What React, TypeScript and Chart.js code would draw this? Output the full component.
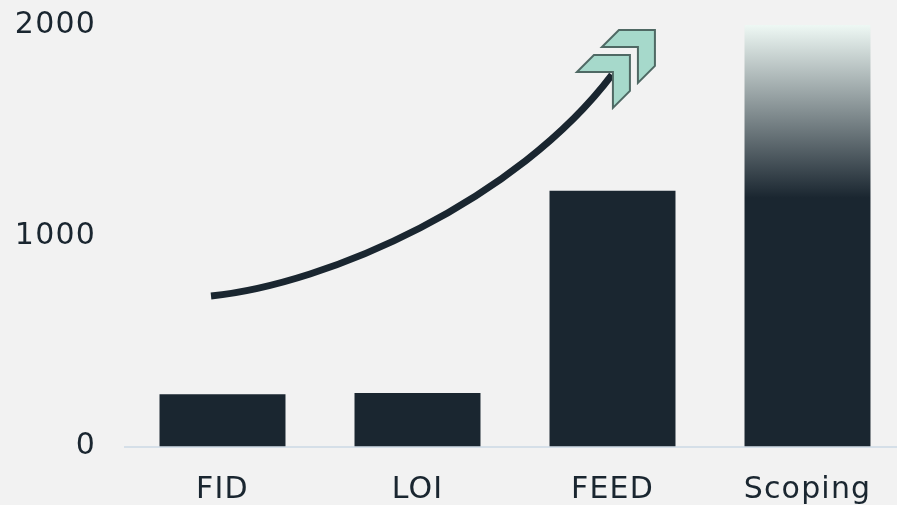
import React, { useEffect, useRef } from 'react';
import { Chart, registerables } from 'chart.js';

Chart.register(...registerables);

const categories = ['FID', 'LOI', 'FEED', 'Scoping'];
const values = [248, 254, 1214, 2000];
const yTicks = [0, 1000, 2000];
// value at which the Scoping bar's fade turns solid
const fadeEndValue = 1180;
// decorative growth arrow (cubic curve), in data space (category index, value)
const arrowX = [-0.059, 0.546, 1.509, 1.997];
const arrowY = [714, 772, 1167, 1763];

const DARK = '#1a2630';
const FONT = 'DejaVu Sans';

const spacingPlugin = {
  id: 'letterSpacing',
  beforeDraw(chart: any) {
    chart.ctx.letterSpacing = '1.2px';
  },
};

const arrowPlugin = {
  id: 'growthArrow',
  afterDatasetsDraw(chart: any) {
    const { ctx, scales } = chart;
    const xs = arrowX.map((v) => scales.x.getPixelForValue(v));
    const ys = arrowY.map((v) => scales.y.getPixelForValue(v));
    ctx.save();
    ctx.beginPath();
    ctx.moveTo(xs[0], ys[0]);
    ctx.bezierCurveTo(xs[1], ys[1], xs[2], ys[2], xs[3], ys[3]);
    ctx.strokeStyle = DARK;
    ctx.lineWidth = 7;
    ctx.lineCap = 'butt';
    ctx.stroke();
    const chevron = [
      [-36, 0], [0, 0], [0, 36], [-17, 53], [-17, 17], [-53, 17],
    ];
    const anchors = [
      [xs[3] + 18, ys[3] - 20],
      [xs[3] + 43, ys[3] - 45],
    ];
    anchors.forEach(([ax, ay]) => {
      ctx.beginPath();
      chevron.forEach(([dx, dy], i) => {
        if (i === 0) ctx.moveTo(ax + dx, ay + dy);
        else ctx.lineTo(ax + dx, ay + dy);
      });
      ctx.closePath();
      ctx.fillStyle = '#a6d9cb';
      ctx.fill();
      ctx.strokeStyle = '#4f6964';
      ctx.lineWidth = 2;
      ctx.lineJoin = 'miter';
      ctx.stroke();
    });
    ctx.restore();
  },
};

export default function App() {
  const ref = useRef<HTMLCanvasElement | null>(null);

  useEffect(() => {
    if (!ref.current) return;
    const chart = new Chart(ref.current, {
      type: 'bar',
      data: {
        labels: categories,
        datasets: [
          {
            data: values,
            backgroundColor: (c: any) => {
              if (c.dataIndex !== values.length - 1) return DARK;
              const ch = c.chart;
              if (!ch.chartArea) return DARK;
              const y0 = ch.scales.y.getPixelForValue(values[values.length - 1]);
              const y1 = ch.scales.y.getPixelForValue(fadeEndValue);
              const g = ch.ctx.createLinearGradient(0, y0, 0, y1);
              g.addColorStop(0, '#eef8f4');
              g.addColorStop(1, DARK);
              return g;
            },
            borderWidth: 0,
            categoryPercentage: 1,
            barPercentage: 0.646,
          },
        ],
      },
      options: {
        responsive: false,
        animation: false,
        devicePixelRatio: 1,
        layout: { padding: { top: 25, left: 0, right: 5, bottom: 0 } },
        plugins: { legend: { display: false }, tooltip: { enabled: false } },
        scales: {
          x: {
            grid: { display: false },
            border: { display: true, color: '#d5dfe8', width: 2 },
            afterFit: (axis: any) => {
              axis.height = 65.5;
            },
            ticks: {
              color: DARK,
              padding: 18,
              font: { family: FONT, size: 30 },
            },
          },
          y: {
            min: 0,
            max: 2000,
            grid: { display: false },
            border: { display: false },
            afterFit: (axis: any) => {
              axis.width = 125;
              axis.paddingTop = 0;
              axis.paddingBottom = 0;
            },
            afterBuildTicks: (axis: any) => {
              axis.ticks = yTicks.map((v) => ({ value: v }));
            },
            ticks: {
              color: DARK,
              padding: 21,
              font: { family: FONT, size: 30 },
              callback: (v: any) => String(v),
            },
          },
        },
      },
      plugins: [spacingPlugin, arrowPlugin],
    } as any);
    return () => chart.destroy();
  }, []);

  return (
    <div
      style={{
        position: 'fixed',
        top: 0,
        left: 0,
        width: 897,
        height: 505,
        overflow: 'hidden',
        background: '#f2f2f2',
      }}
    >
      <canvas ref={ref} width={910} height={512} style={{ display: 'block' }} />
    </div>
  );
}
